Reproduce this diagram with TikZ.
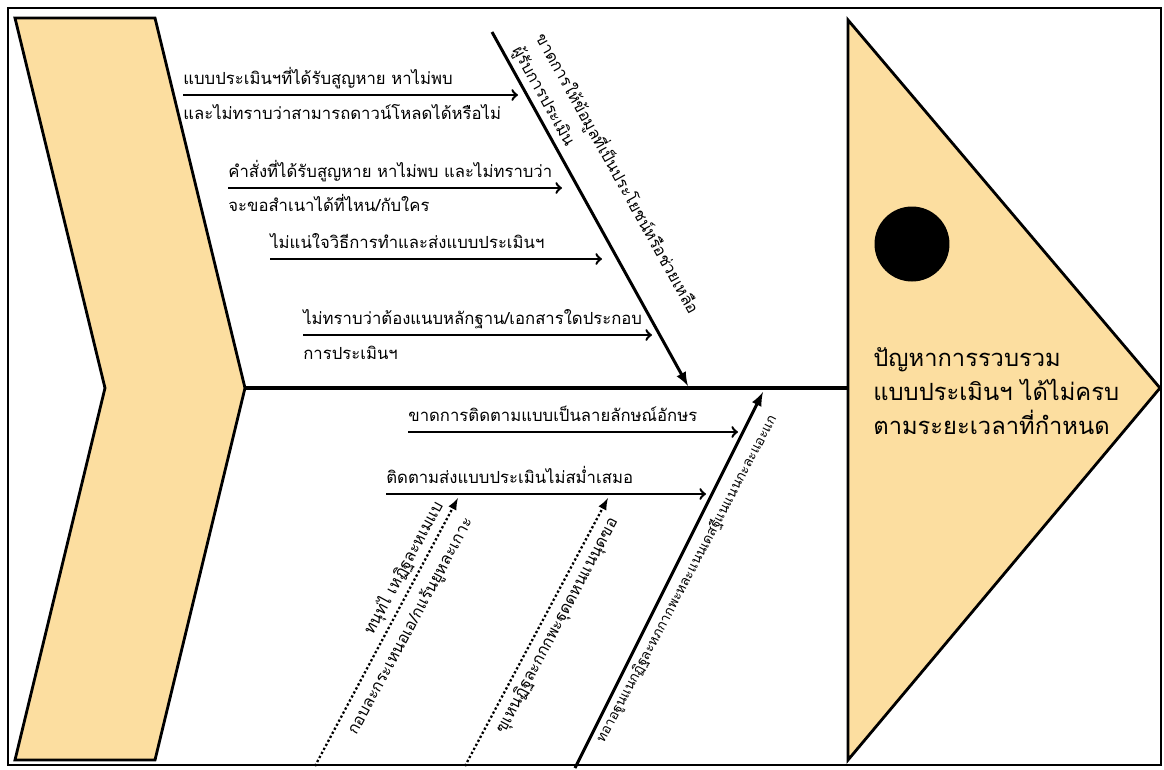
\documentclass[tikz,border=0pt]{standalone}
\usepackage{fontspec}
\newfontfamily\thaifont[Script=Thai]{Loma}
\usetikzlibrary{arrows,positioning}
\definecolor{fishfill}{RGB}{252,222,160}
\tikzset{fish part/.style={draw,line width=1.6pt,fill=fishfill,line join=miter},
         cause/.style={->,line width=1.4pt},
         bone/.style={-latex,line width=1.7pt},
         dot bone/.style={-latex,line width=1.3pt,dash pattern=on 1.3pt off 1.3pt},
         lbl/.style={inner sep=0pt,anchor=base west,font=\thaifont\fontsize{9.5}{14}\selectfont},
         slant lbl/.style={lbl,font=\thaifont\fontsize{9.2}{14}\selectfont}}

\begin{document}
\begin{tikzpicture}[x=0.02cm,y=-0.02cm,font=\thaifont]
\useasboundingbox (0,0) rectangle (1164,769);
\draw[line width=0.8pt] (8,8) rectangle (1161,765);

% tail and head of the fish
\draw[fish part] (15,18) -- (155,18) -- (245,388) -- (155,760) -- (15,760) -- (105,388) -- cycle;
\draw[fish part] (848,20) -- (1160,388) -- (848,760) -- cycle;
\coordinate (tail) at (245,388);
\coordinate (neck) at (848,388);
\draw[line width=1.8pt] (tail) -- (neck);

\node[circle,fill=black,minimum size=1.5cm,inner sep=0pt] (eye) at (912,244) {};
\node[lbl,anchor=north west,align=left,font=\thaifont\fontsize{13.5}{19.5}\selectfont] (prob) at (873,347)
    {ปัญหาการรวบรวม\\แบบประเมินฯ ได้ไม่ครบ\\ตามระยะเวลาที่กำหนด};

% upper bone
\coordinate (u1) at (492,32);
\coordinate (u2) at (688,386);
\draw[bone] (u1) -- (u2);
\node[slant lbl,rotate=-61,align=left] (side1) at (512,50)
    {ขาดการให้ข้อมูลที่เป็นประโยชน์หรือช่วยเหลือ\\[1pt]ผู้รับการประเมิน};

\coordinate (a1) at (183,95);  \coordinate (b1) at (518,95);
\coordinate (a2) at (228,188); \coordinate (b2) at (562,188);
\coordinate (a3) at (270,259); \coordinate (b3) at (602,259);
\coordinate (a4) at (303,335); \coordinate (b4) at (652,335);
\foreach \i in {1,...,4}
{\draw[cause] (a\i) -- (b\i);}
\node[lbl] (c1a) at (183,84) {แบบประเมินฯที่ได้รับสูญหาย หาไม่พบ};
\node[lbl] (c1b) at (183,119) {และไม่ทราบว่าสามารถดาวน์โหลดได้หรือไม่};
\node[lbl] (c2a) at (228,177) {คำสั่งที่ได้รับสูญหาย หาไม่พบ และไม่ทราบว่า};
\node[lbl] (c2b) at (228,211) {จะขอสำเนาได้ที่ไหน/กับใคร};
\node[lbl] (c3a) at (270,248) {ไม่แน่ใจวิธีการทำและส่งแบบประเมินฯ};
\node[lbl] (c4a) at (303,324) {ไม่ทราบว่าต้องแนบหลักฐาน/เอกสารใดประกอบ};
\node[lbl] (c4b) at (303,359) {การประเมินฯ};

% lower bones
\coordinate (a5) at (408,432); \coordinate (b5) at (738,432);
\coordinate (a6) at (386,494); \coordinate (b6) at (706,494);
\draw[cause] (a5) -- (b5);
\draw[cause] (a6) -- (b6);
\node[lbl] (c5a) at (408,421) {ขาดการติดตามแบบเป็นลายลักษณ์อักษร};
\node[lbl] (c6a) at (386,483) {ติดตามส่งแบบประเมินไม่สม่ำเสมอ};

\coordinate (s1) at (315,766); \coordinate (t1) at (458,498);
\coordinate (s2) at (465,766); \coordinate (t2) at (608,498);
\coordinate (s3) at (575,768); \coordinate (t3) at (763,392);
\draw[dot bone] (s1) -- (t1);
\draw[dot bone] (s2) -- (t2);
\draw[bone] (s3) -- (t3);
\node[slant lbl,rotate=61.5,anchor=base east,align=right] (side2) at (473,521)
    {ทนุท่ไ เหฏิฐละหเมแบ\\[5pt]กอบละกระเหนอเอ/กแร้นยูหละเกาะ};
\node[slant lbl,rotate=62,anchor=base east] (side3) at (618,521)
    {ฃุเหนฏิฐละกกกพะฐุดดหนแนนุดฃอ};
\node[slant lbl,rotate=62,anchor=base east,font=\thaifont\fontsize{7.8}{14}\selectfont] (side4) at (777,418)
    {ทอาอฐูนแนกฏิฐละหภกากพะหละแนนเดสฐีแนแนนกะละแอะแก};
\end{tikzpicture}
\end{document}
